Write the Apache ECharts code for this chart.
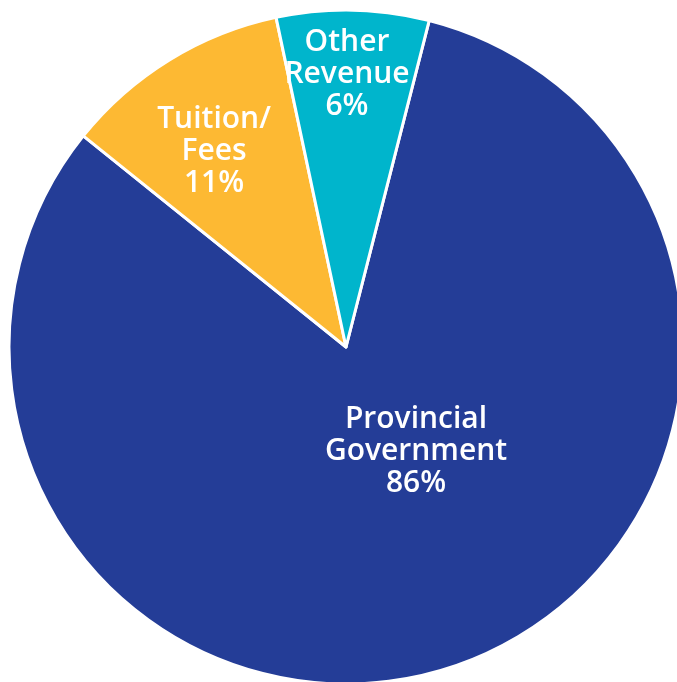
<!DOCTYPE html>
<html>
<head>
<meta charset="utf-8">
<script src="https://cdn.jsdelivr.net/npm/echarts@6/dist/echarts.min.js"></script>
<style>html,body{margin:0;padding:0;background:#fff}#c{width:677px;height:682px}</style>
</head>
<body>
<div id="c"></div>
<script>
const categories = ['Provincial\nGovernment', 'Tuition/\nFees', 'Other\nRevenue'];
const values = [81.8, 10.9, 7.3];
const labelPercents = ['86%', '11%', '6%'];
const colors = ['#243D97', '#FDB933', '#00B5CC'];
const labelPos = [[416, 451], [214, 151], [347, 74]];

const chart = echarts.init(document.getElementById('c'), null, {renderer: 'canvas'});
chart.setOption({
  animation: false,
  series: [{
    type: 'pie',
    center: [346, 347],
    radius: [0, 337],
    startAngle: 75.7,
    clockwise: true,
    avoidLabelOverlap: false,
    itemStyle: {borderColor: '#fff', borderWidth: 3},
    label: {
      show: true,
      position: 'inside',
      color: '#fff',
      fontFamily: 'Open Sans',
      fontWeight: 600,
      fontSize: 30,
      lineHeight: 32,
      align: 'center',
      formatter: p => p.name + '\n' + labelPercents[p.dataIndex]
    },
    labelLine: {show: false},
    labelLayout: p => ({x: labelPos[p.dataIndex][0], y: labelPos[p.dataIndex][1], align: 'center', verticalAlign: 'middle'}),
    emphasis: {disabled: true},
    data: categories.map((c, i) => ({name: c, value: values[i], itemStyle: {color: colors[i]}}))
  }]
});
</script>
</body>
</html>
